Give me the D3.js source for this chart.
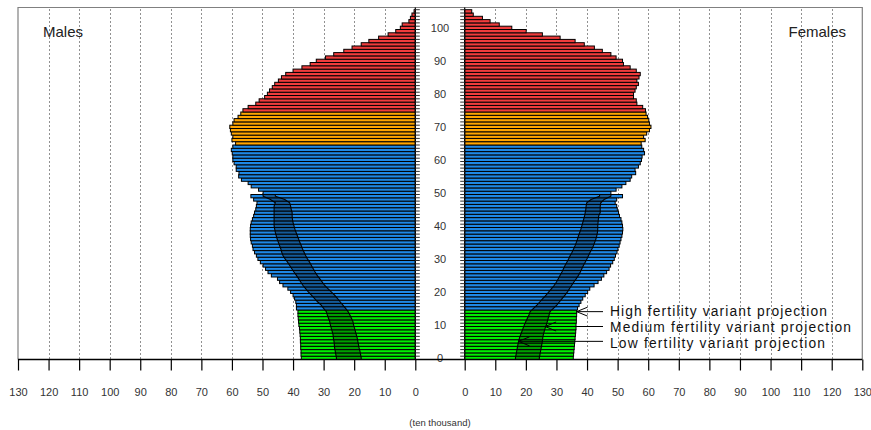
<!DOCTYPE html>
<html><head><meta charset="utf-8">
<script src="https://cdn.jsdelivr.net/npm/d3@7"></script>
<style>body{margin:0;background:#fff}svg{display:block}text{font-family:"Liberation Sans",Arial,sans-serif}</style>
</head><body>
<script>
// ---- DATA ----
const ageMax = 105;
// males (ages 0..105), ten thousand; ages 0-49 = high fertility variant
const males = [37.3,37.4,37.4,37.5,37.5,37.6,37.6,37.7,37.8,37.9,
38.1,38.2,38.3,38.4,38.4,38.9,38.9,39.1,39.5,40.0,
40.8,41.7,43.3,44.4,45.1,47.1,48.2,49.0,49.8,50.7,
51.5,52.0,52.6,53.1,53.3,53.7,53.9,54.0,54.0,54.0,
53.9,53.7,53.3,52.9,52.6,52.2,52.0,51.8,52.9,53.8,
49.8,51.3,53.7,54.7,56.9,57.8,57.7,58.6,58.6,59.3,
59.7,59.7,59.9,60.2,59.7,58.8,60.0,59.7,60.2,60.5,
60.7,59.7,59.3,58.0,57.1,56.4,54.7,52.2,51.1,49.3,
48.4,47.7,46.8,46.0,44.8,43.8,42.4,40.0,37.1,34.4,
32.4,29.4,26.7,23.4,20.7,17.7,15.2,12.0,8.9,6.4,
4.9,4.3,2.1,1.6,1.1,0.4];
const females = [35.5,35.6,35.7,35.8,35.9,36.0,36.1,36.2,36.3,36.4,
36.4,36.5,36.5,36.6,36.6,36.9,37.4,38.0,38.6,39.4,
40.2,40.9,42.3,43.6,44.7,45.5,46.4,47.2,47.7,48.4,
48.9,49.3,49.8,50.1,50.5,50.8,51.1,51.4,51.6,51.7,
51.6,51.4,51.1,50.6,50.3,49.9,49.7,49.2,49.7,51.6,
47.8,49.5,51.4,52.7,54.1,54.6,55.9,55.7,56.8,57.4,
57.8,58.0,58.8,58.5,57.9,57.7,59.0,58.5,59.5,60.4,
60.9,60.4,60.2,59.8,59.3,59.1,58.2,56.3,56.1,55.2,
55.2,55.7,56.1,56.8,56.3,57.0,57.4,56.1,54.1,51.9,
51.6,49.5,47.8,45.0,42.4,39.1,36.1,31.2,25.4,20.1,
15.4,11.3,8.3,5.8,2.8,2.3];
// projection variants for ages 0..49
const malesLow = [17.7,17.9,18.1,18.4,18.6,18.8,19.0,19.3,19.6,19.9,
20.2,20.4,20.9,21.4,22.0,22.8,23.7,24.6,25.5,26.4,
27.5,28.6,29.7,30.5,31.3,32.1,32.8,33.4,34.0,34.6,
35.3,35.9,36.4,36.9,37.3,37.8,38.2,38.6,39.0,39.4,
39.7,40.0,40.2,40.3,40.3,40.6,40.8,41.1,42.7,45.8];
const malesMedium = [25.8,26.0,26.2,26.4,26.5,26.6,26.8,26.9,27.2,27.5,
27.8,28.0,28.4,28.8,29.1,30.0,30.8,32.0,33.0,34.0,
35.0,35.9,36.8,37.5,38.2,38.9,39.7,40.4,41.1,41.8,
42.6,43.3,43.7,44.0,44.4,44.8,45.2,45.5,45.8,46.0,
46.2,46.2,46.2,46.2,46.2,46.2,46.2,45.8,47.4,49.8];
const femalesLow = [16.6,16.8,17.0,17.2,17.4,17.6,17.9,18.3,18.7,19.1,
19.5,20.0,20.5,21.0,21.4,22.5,23.6,24.6,25.6,26.6,
27.5,28.4,29.3,30.0,30.6,31.2,31.8,32.3,32.8,33.4,
34.0,34.5,35.1,35.6,36.1,36.5,36.9,37.2,37.6,38.0,
38.3,38.6,38.9,39.2,39.4,39.6,39.7,39.9,41.3,44.1];
const femalesMedium = [24.4,24.6,24.8,25.0,25.2,25.4,25.5,25.7,26.0,26.3,
26.7,27.0,27.3,27.6,27.9,29.0,30.1,31.0,31.9,32.8,
33.6,34.3,35.0,35.7,36.5,37.2,37.8,38.3,38.8,39.4,
40.0,40.5,41.0,41.6,42.1,42.5,42.9,43.2,43.4,43.5,
43.5,43.6,43.7,43.8,44.3,44.3,44.3,44.5,45.6,47.8];
const xTicks = [0,10,20,30,40,50,60,70,80,90,100,110,120,130];
const ageLabels = [0,10,20,30,40,50,60,70,80,90,100];
const groupBreaks = [15,65,75];           // age group boundaries
const groupColors = ["#00ee00","#1e88e5","#ffa500","#f03c3c"];
const noteLabels = ["High fertility variant projection","Medium fertility variant projection","Low fertility variant projection"];

// ---- LAYOUT ----
const W = 871, H = 430;
const svg = d3.select("body").append("svg").attr("width",W).attr("height",H);
const xL = d3.scaleLinear().domain([0,130]).range([415.3,18]);
const xR = d3.scaleLinear().domain([0,130]).range([464.7,862.3]);
const yA = d3.scaleLinear().domain([0,106]).range([359.5,9.7]);
const ages = d3.range(0, ageMax+1);
const colorOf = d3.scaleThreshold().domain(groupBreaks).range(groupColors);
const yTop = 7.5, yBase = 359.5;

// grid
const gridVals = xTicks.filter(v=>v>0 && v<130);
[xL,xR].forEach(sc=>{
  svg.append("g").selectAll("line").data(gridVals).join("line")
    .attr("x1",d=>Math.round(sc(d))+0.5).attr("x2",d=>Math.round(sc(d))+0.5)
    .attr("y1",yTop+2).attr("y2",yBase)
    .attr("stroke","#222").attr("stroke-width",1).attr("stroke-dasharray","1,3");
});

// frame
svg.append("path").attr("d",`M${xL(130)},${yBase} V${yTop} H${xR(130)} V${yBase}`)
  .attr("fill","none").attr("stroke","#808080").attr("stroke-width",1.2);

// bars
function drawBars(vals, sc){
  svg.append("g").selectAll("rect").data(ages).join("rect")
    .attr("x",a=>Math.min(sc(0),sc(vals[a])))
    .attr("width",a=>Math.abs(sc(vals[a])-sc(0)))
    .attr("y",a=>yA(a+1)).attr("height",a=>yA(a)-yA(a+1))
    .attr("fill",a=>colorOf(a)).attr("stroke","#000").attr("stroke-width",1);
}
drawBars(males,xL);
drawBars(females,xR);

// projection band (between low and medium variants)
function drawBand(low, med, sc){
  const n = low.length;
  const pts = [{y:yA(0),lo:low[0],me:med[0]}]
    .concat(low.map((v,i)=>({y:yA(i+0.5),lo:v,me:med[i]})))
    .concat([{y:yA(n),lo:low[n-1],me:med[n-1]}]);
  const area = d3.area().y(d=>d.y).x0(d=>sc(d.lo)).x1(d=>sc(d.me));
  svg.append("path").datum(pts).attr("d",area)
    .attr("fill","rgba(0,0,0,0.33)").attr("stroke","#000").attr("stroke-width",1.1);
}
drawBand(malesLow,malesMedium,xL);
drawBand(femalesLow,femalesMedium,xR);

// center axes
svg.append("line").attr("x1",xL(0)).attr("x2",xL(0)).attr("y1",yTop).attr("y2",yBase).attr("stroke","#000").attr("stroke-width",1.2);
svg.append("line").attr("x1",xR(0)).attr("x2",xR(0)).attr("y1",yTop).attr("y2",yBase).attr("stroke","#000").attr("stroke-width",1.2);
const tickAges = d3.range(0, ageMax+2);
svg.append("g").selectAll("line").data(tickAges).join("line")
  .attr("x1",xL(0)).attr("x2",xL(0)+4.5).attr("y1",a=>yA(a)).attr("y2",a=>yA(a))
  .attr("stroke","#333").attr("stroke-width",1);
svg.append("g").selectAll("line").data(tickAges).join("line")
  .attr("x1",xR(0)-4.5).attr("x2",xR(0)).attr("y1",a=>yA(a)).attr("y2",a=>yA(a))
  .attr("stroke","#333").attr("stroke-width",1);
svg.append("g").selectAll("text").data(ageLabels).join("text")
  .attr("x",(xL(0)+xR(0))/2).attr("y",a=>yA(a+0.5)+4)
  .attr("text-anchor","middle").attr("font-size",11).attr("fill","#333").text(d=>d);

// bottom axes
svg.append("line").attr("x1",xL(130)).attr("x2",xR(130)).attr("y1",yBase).attr("y2",yBase)
  .attr("stroke","#000").attr("stroke-width",1.6);
const axL = d3.axisBottom(xL).tickValues(xTicks).tickSize(11).tickPadding(18).tickFormat(d3.format("d"));
const axR = d3.axisBottom(xR).tickValues(xTicks).tickSize(11).tickPadding(18).tickFormat(d3.format("d"));
[axL,axR].forEach(ax=>{
  const g = svg.append("g").attr("transform",`translate(0,${yBase})`).call(ax);
  g.select(".domain").remove();
  g.selectAll(".tick line").attr("stroke","#000").attr("stroke-width",1.2);
  g.selectAll(".tick text").attr("font-size",11).attr("fill","#333")
    .attr("font-family","'Liberation Sans',Arial,sans-serif");
});
svg.append("text").attr("x",440).attr("y",426).attr("text-anchor","middle")
  .attr("font-size",9.5).attr("fill","#333").text("(ten thousand)");

// titles
svg.append("text").attr("x",43).attr("y",37).attr("font-size",15).attr("fill","#222").text("Males");
svg.append("text").attr("x",846).attr("y",37).attr("text-anchor","end").attr("font-size",15).attr("fill","#222").text("Females");

// annotations
const notes = [
  {label:noteLabels[0], v:females[14], age:14, ty:315.5, w:217},
  {label:noteLabels[1], v:femalesMedium[9], age:9.5, ty:331.5, w:241},
  {label:noteLabels[2], v:femalesLow[5], age:5, ty:347.5, w:215}
];
const lineEnd = 603;
notes.forEach(n=>{
  const tx = xR(n.v), ty = yA(n.age+0.5);
  svg.append("line").attr("x1",tx).attr("x2",lineEnd).attr("y1",ty).attr("y2",ty)
    .attr("stroke","#000").attr("stroke-width",1);
  svg.append("path").attr("d",`M${tx+11},${ty-4.5} L${tx},${ty} L${tx+11},${ty+4.5}`)
    .attr("fill","none").attr("stroke","#000").attr("stroke-width",1);
  svg.append("text").attr("x",610).attr("y",n.ty).attr("font-size",13.8).attr("fill","#111")
    .attr("textLength",n.w).attr("lengthAdjust","spacing").text(n.label);
});
</script>
</body></html>
